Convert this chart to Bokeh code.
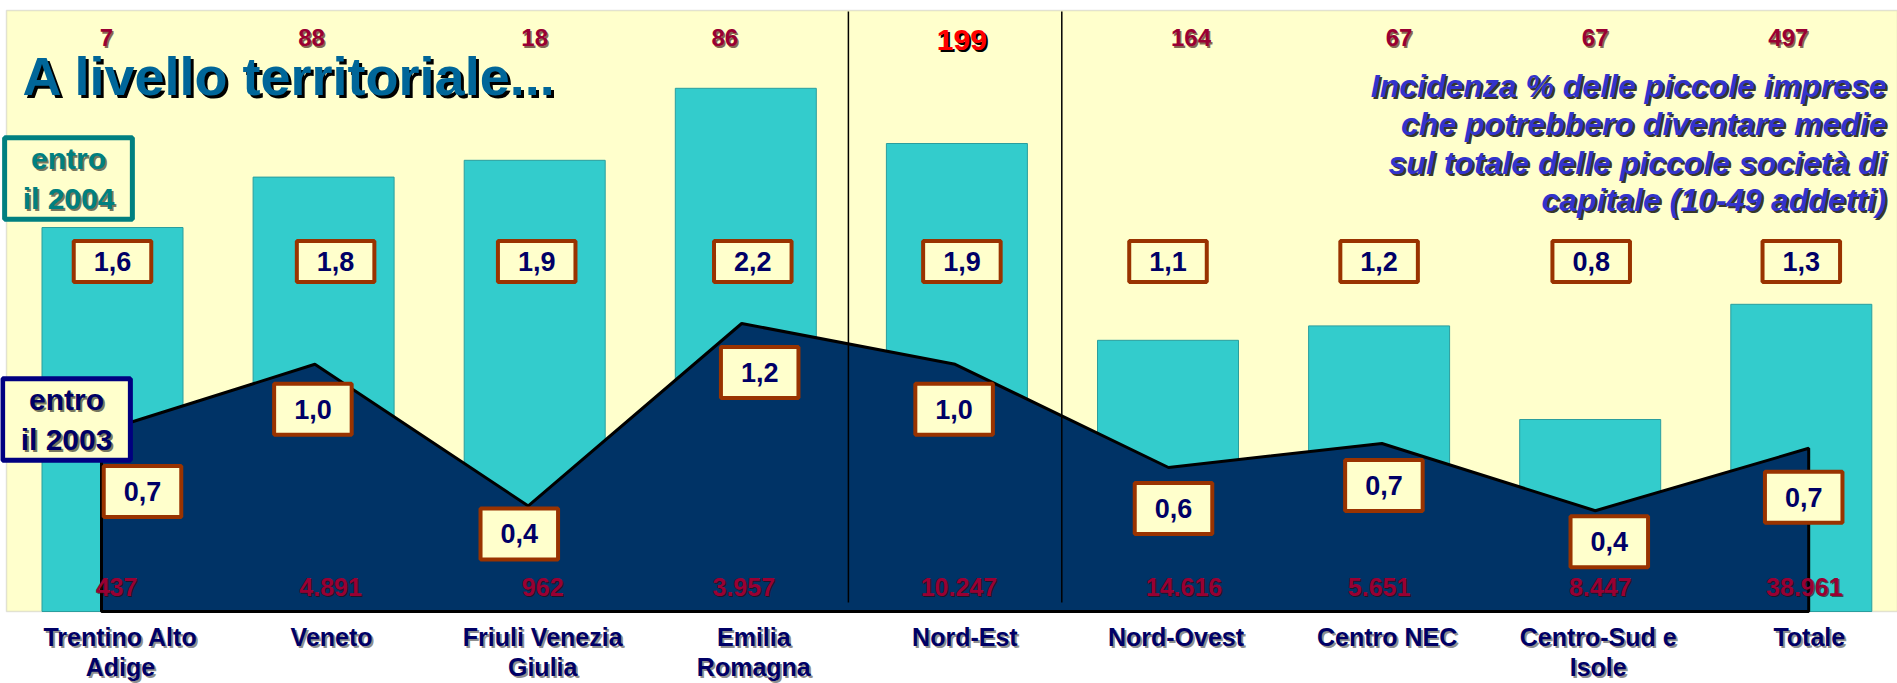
from bokeh.plotting import figure
from bokeh.models import Range1d, BoxAnnotation
from bokeh.core.properties import value
from bokeh.embed import file_html
from bokeh.resources import INLINE

# ---------------- data ----------------
categories = ["Trentino Alto\nAdige", "Veneto", "Friuli Venezia\nGiulia", "Emilia\nRomagna",
              "Nord-Est", "Nord-Ovest", "Centro NEC", "Centro-Sud e\nIsole", "Totale"]
entro_2004 = [1.60, 1.81, 1.88, 2.18, 1.95, 1.13, 1.19, 0.80, 1.28]
entro_2003 = [0.75, 1.03, 0.44, 1.20, 1.03, 0.60, 0.70, 0.42, 0.68]
labels_2004 = ["1,6", "1,8", "1,9", "2,2", "1,9", "1,1", "1,2", "0,8", "1,3"]
labels_2003 = ["0,7", "1,0", "0,4", "1,2", "1,0", "0,6", "0,7", "0,4", "0,7"]
counts_top = ["7", "88", "18", "86", "199", "164", "67", "67", "497"]
counts_bottom = ["437", "4.891", "962", "3.957", "10.247", "14.616", "5.651", "8.447", "38.961"]
title_text = "A livello territoriale..."
subtitle_lines = ["Incidenza % delle piccole imprese", "che potrebbero diventare medie",
                  "sul totale delle piccole società di", "capitale (10-49 addetti)"]
idx = list(range(len(categories)))

# ---------------- layout / style ----------------
FONT = "Liberation Sans"
FW, FH = 1897, 683
PXU = 211.1          # px per category (bars)
PXU_L = 213.4        # px per category (area line)
PYU = 240.0          # px per unit of value
BASE = 611           # px of value 0 from top
X_START = -112 / PXU
XL_START = -101 / PXU_L


def dx(px):  # px -> data x (bar scale)
    return X_START + px / PXU


def dy(py):  # px -> data y
    return (BASE - py) / PYU


p = figure(width=FW, height=FH, title=None, output_backend="svg", toolbar_location=None,
           x_range=Range1d(X_START, X_START + FW / PXU),
           y_range=Range1d(-(FH - BASE) / PYU, BASE / PYU),
           x_axis_location=None, y_axis_location=None, min_border=0,
           background_fill_color="white", border_fill_color="white", outline_line_color=None)
p.extra_x_ranges = {"line": Range1d(XL_START, XL_START + FW / PXU_L)}
p.grid.visible = False

p.add_layout(BoxAnnotation(left=dx(6), bottom=0, top=dy(10), fill_color="#FFFFCC", fill_alpha=1,
                           line_color="#A0A0A0", line_width=1.5, level="underlay"))


def stext(x, y, text, color, size, shadow="#000000", off=2, shadow_alpha=1.0, style="bold",
          align="center", baseline="middle", line_height=1.2, range_name=None):
    common = dict(text_font=value(FONT), text_font_size=f"{size}px", text_font_style=style,
                  text_align=align, text_baseline=baseline, text_line_height=line_height)
    if range_name:
        common["x_range_name"] = range_name
    if shadow is not None:
        p.text(x=[v + off / PXU for v in x], y=[v - off / PYU for v in y], text=text,
               text_color=shadow, text_alpha=shadow_alpha, **common)
    p.text(x=x, y=y, text=text, text_color=color, **common)


# bars (entro il 2004)
p.vbar(x=idx, top=entro_2004, bottom=0, width=141 / PXU, fill_color="#33CCCC",
       line_color="#2A9E9E", line_width=1)

# area (entro il 2003)
ax = [idx[0]] + idx + [idx[-1]]
ay = [0] + entro_2003 + [0]
p.patch(ax, ay, fill_color="#003366", line_color="black", line_width=3, x_range_name="line")

# separators
p.segment(x0=[3.5, 4.5], x1=[3.5, 4.5], y0=dy(602), y1=dy(11), line_color="black",
          line_width=1.5, x_range_name="line")

# top counts
top_off = [-6, -12, 0, -21, 5, 23, 20, 5, -13]
tx = [i + o / PXU for i, o in zip(idx, top_off)]
normal = [k for k in idx if k != 4]
stext([tx[k] for k in normal], [dy(37)] * len(normal), [counts_top[k] for k in normal],
      "#990033", 24, shadow="#330000", off=1.5, shadow_alpha=0.6)
stext([tx[4]], [dy(39)], [counts_top[4]], "#FF0000", 30, shadow="#000000", off=2)

# bottom counts
bot_off = [4, 7, 8, -2, 2, 16, 0, 10, 3]
stext([i + o / PXU for i, o in zip(idx, bot_off)], [dy(586)] * 9, counts_bottom,
      "#990033", 25, shadow="#330000", off=1.5, shadow_alpha=0.6)

# upper value boxes (2004)
up_off = [0, 12, 2, 7, 5, 0, 0, 1, 0]
box_common = dict(text_font=value(FONT), text_font_size="27px", text_font_style="bold",
                  text_align="center", text_baseline="middle", text_color="#000066",
                  background_fill_color="#FFFFCC", border_line_color="#993300",
                  border_line_width=4)
p.text(x=[i + o / PXU for i, o in zip(idx, up_off)], y=[dy(261)] * 9, text=labels_2004,
       padding=dict(left=20, right=20, top=11, bottom=11), **box_common)

# lower value boxes (2003)
lo_dx = [41, -2, -9, 18, -1, 5, 2, 14, -5]
lo_dy = [60, 45, 28, 49, 45, 41, 42, 31, 49]
p.text(x=[i + o / PXU_L for i, o in zip(idx, lo_dx)],
       y=[v - o / PYU for v, o in zip(entro_2003, lo_dy)], text=labels_2003,
       padding=dict(left=20, right=20, top=16, bottom=16), x_range_name="line", **box_common)

# legend-like boxes
for txt, cx, cy, tcol, bcol in [("entro\nil 2004", 68, 178, "#008080", "#008080"),
                                ("entro\nil 2003", 66, 419, "#000066", "#000080")]:
    common = dict(text_font=value(FONT), text_font_size="30px", text_font_style="bold",
                  text_align="center", text_baseline="middle", text_line_height=1.22)
    p.text(x=[dx(cx)], y=[dy(cy)], text=[txt], text_color=tcol, text_alpha=0,
           background_fill_color="#FFFFCC", border_line_color=bcol, border_line_width=5,
           padding=dict(left=18, right=18, top=4, bottom=4), **common)
    p.text(x=[dx(cx + 2)], y=[dy(cy + 2)], text=[txt], text_color="#000000", text_alpha=0.55,
           **common)
    p.text(x=[dx(cx)], y=[dy(cy)], text=[txt], text_color=tcol, **common)

# title
stext([dx(22)], [dy(75)], [title_text], "#006699", 54, shadow="#000000", off=3,
      align="left", baseline="middle")

# subtitle
stext([dx(1886)] * 4, [dy(85), dy(123), dy(162), dy(199)], subtitle_lines, "#3333CC", 32,
      shadow="#000000", off=2, shadow_alpha=0.8, style="bold italic", align="right")

# category labels
stext([i + 8 / PXU for i in idx], [dy(622)] * 9, categories, "#000066", 25,
      shadow="#000000", off=2, shadow_alpha=0.45, baseline="top", line_height=1.08)

open("out.html", "w").write(file_html(p, INLINE))
